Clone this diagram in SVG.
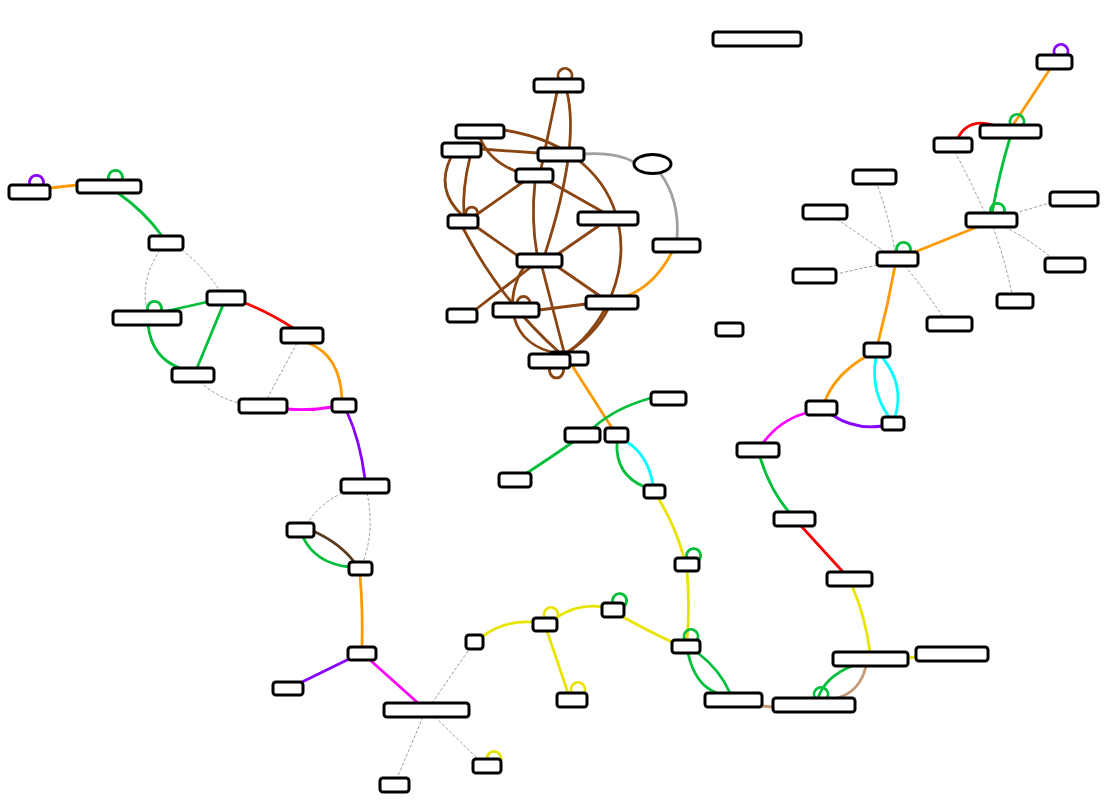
<svg xmlns="http://www.w3.org/2000/svg" width="1111" height="800" viewBox="0 0 1111 800">
<style>
.n{fill:#fff;stroke:#000;stroke-width:3}
.e{fill:none;stroke-width:2.8;stroke-linecap:round}
.d{fill:none;stroke:#9a9a9a;stroke-width:1;stroke-dasharray:3 2}
.br{stroke:#8b4513}.or{stroke:#ff9900}.gr{stroke:#00bf3a}.rd{stroke:#ff0000}
.mg{stroke:#ff00ff}.pu{stroke:#8800ff}.cy{stroke:#00ffff}.ye{stroke:#e8e400}
.gy{stroke:#a0a0a0}.db{stroke:#5b3a1e}.tn{stroke:#c49a78}
</style>
<rect width="1111" height="800" fill="#fff"/>
<g id="connectors">
<!-- brown cluster -->
<path class="e br" d="M559 79 A7 7 0 1 1 571 79"/>
<path class="e br" d="M557 92 L541 169"/>
<path class="e br" d="M535 182 Q531 220 537 254"/>
<path class="e br" d="M567 92 Q580 146 545 254"/>
<path class="e br" d="M503 130 C640 150 652 285 568 353"/>
<path class="e br" d="M480 138 Q490 162 518 172"/>
<path class="e br" d="M481 149 L538 153"/>
<path class="e br" d="M451 157 Q435 190 462 215"/>
<path class="e br" d="M470 157 Q462 190 464 215"/>
<path class="e br" d="M466 215 A6 6 0 1 1 477 216"/>
<path class="e br" d="M476 215 L523 182"/>
<path class="e br" d="M550 182 L603 212"/>
<path class="e br" d="M478 228 L518 256"/>
<path class="e br" d="M600 225 L558 254"/>
<path class="e br" d="M558 267 L600 296"/>
<path class="e br" d="M531 267 L475 310"/>
<path class="e br" d="M463 228 Q500 300 560 353"/>
<path class="e br" d="M539 310 L586 304"/>
<path class="e br" d="M517 303 A6 6 0 1 1 530 303"/>
<path class="e br" d="M524 267 C505 295 505 345 560 354"/>
<path class="e br" d="M542 267 L564 352"/>
<path class="e br" d="M608 309 Q595 335 566 353"/>
<path class="e br" d="M550 367 A7 8 0 1 0 563 367"/>
<path class="e gy" d="M584 154 Q615 152 634 162"/>
<path class="e gy" d="M660 173 Q680 200 677 239"/>
<path class="e or" d="M672 252 Q655 285 627 296"/>
<path class="e or" d="M573 367 L612 428"/>
<!-- lower middle -->
<path class="e gr" d="M651 398 Q615 408 593 428"/>
<path class="e gr" d="M573 442 Q550 458 527 473"/>
<path class="e gr" d="M617 442 Q615 475 645 487"/>
<path class="e cy" d="M627 442 Q648 455 653 485"/>
<path class="e ye" d="M658 498 Q675 525 684 558"/>
<path class="e gr" d="M687 558 A7 7 0 1 1 699 560"/>
<path class="e ye" d="M687 571 Q690 605 687 640"/>
<path class="e gr" d="M685 640 A7 7 0 1 1 697 640"/>
<path class="e gr" d="M613 603 A7 7 0 1 1 625 605"/>
<path class="e ye" d="M623 617 Q650 632 672 642"/>
<path class="e ye" d="M557 617 Q580 603 602 607"/>
<path class="e ye" d="M545 618 A7 7 0 1 1 557 618"/>
<path class="e ye" d="M483 636 Q505 620 533 622"/>
<path class="e ye" d="M547 631 L568 693"/>
<path class="e ye" d="M572 693 A7 7 0 1 1 584 693"/>
<path class="e gr" d="M688 653 Q695 685 717 693"/>
<path class="e gr" d="M698 653 Q720 670 730 693"/>
<path class="e tn" d="M762 706 L773 707"/>
<path class="e ye" d="M908 658 L916 657"/>
<path class="e gr" d="M852 666 Q825 677 818 698"/>
<path class="e gr" d="M815 698 A7 7 0 1 1 827 698"/>
<path class="e tn" d="M866 666 Q860 692 837 698"/>
<path class="e ye" d="M852 586 Q865 615 870 652"/>
<path class="e rd" d="M802 527 L843 572"/>
<path class="e gr" d="M760 457 Q770 490 789 512"/>
<path class="e mg" d="M763 443 Q780 420 806 413"/>
<path class="e pu" d="M832 415 Q855 430 882 426"/>
<path class="e or" d="M865 357 Q835 375 825 401"/>
<path class="e cy" d="M876 357 Q870 390 889 417"/>
<path class="e cy" d="M882 357 Q905 385 895 417"/>
<path class="e or" d="M895 266 Q888 305 878 343"/>
<!-- right top -->
<path class="e pu" d="M1055 55 A7 7 0 1 1 1067 55"/>
<path class="e or" d="M1050 69 L1013 125"/>
<path class="e gr" d="M1011 125 A7 7 0 1 1 1023 125"/>
<path class="e rd" d="M958 138 Q968 118 993 125"/>
<path class="e gr" d="M1010 138 Q1000 170 992 213"/>
<path class="e gr" d="M991 213 A7 7 0 1 1 1004 213"/>
<path class="e or" d="M915 252 L977 227"/>
<path class="e gr" d="M897 252 A7 7 0 1 1 910 252"/>
<path class="d" d="M895 252 Q890 220 877 184"/>
<path class="d" d="M885 252 Q860 235 837 219"/>
<path class="d" d="M877 265 L836 274"/>
<path class="d" d="M905 266 Q925 290 943 317"/>
<path class="d" d="M985 213 Q970 180 955 152"/>
<path class="d" d="M1015 213 L1050 203"/>
<path class="d" d="M1005 227 Q1030 240 1052 258"/>
<path class="d" d="M993 227 Q1005 260 1012 294"/>
<!-- left -->
<path class="e pu" d="M30 185 A7 7 0 1 1 43 185"/>
<path class="e or" d="M50 188 L77 185"/>
<path class="e gr" d="M109 180 A7 7 0 1 1 122 180"/>
<path class="e gr" d="M118 193 Q145 212 162 236"/>
<path class="d" d="M160 250 Q140 280 147 310"/>
<path class="d" d="M182 250 Q205 268 220 291"/>
<path class="e gr" d="M167 311 L207 302"/>
<path class="e gr" d="M148 311 A7 7 0 1 1 161 311"/>
<path class="e gr" d="M148 325 Q152 358 180 368"/>
<path class="e gr" d="M223 305 L197 368"/>
<path class="e rd" d="M245 303 Q270 313 293 328"/>
<path class="d" d="M200 382 Q218 398 239 403"/>
<path class="d" d="M297 343 L267 399"/>
<path class="e or" d="M308 343 Q340 355 342 399"/>
<path class="e mg" d="M287 409 Q310 411 332 407"/>
<path class="e pu" d="M347 412 Q360 440 365 479"/>
<path class="d" d="M342 493 Q318 505 308 523"/>
<path class="d" d="M367 493 Q375 530 363 562"/>
<path class="e db" d="M313 531 Q340 543 355 563"/>
<path class="e gr" d="M303 537 Q315 563 349 567"/>
<path class="e or" d="M360 575 Q363 610 362 647"/>
<path class="e pu" d="M349 659 L302 682"/>
<path class="e mg" d="M370 660 L418 703"/>
<path class="d" d="M432 703 L470 648"/>
<path class="d" d="M423 717 L397 778"/>
<path class="d" d="M435 717 L478 759"/>
<path class="e ye" d="M487 759 A7 7 0 1 1 500 762"/>
</g>
<g id="n-a"><rect class="n" x="534" y="79" width="49" height="13" rx="3"/></g>
<g id="n-b"><rect class="n" x="456" y="125" width="48" height="13" rx="3"/></g>
<g id="n-c"><rect class="n" x="442" y="143" width="39" height="14" rx="3"/></g>
<g id="n-d"><rect class="n" x="538" y="148" width="46" height="13" rx="3"/></g>
<g id="n-e"><rect class="n" x="516" y="169" width="37" height="13" rx="3"/></g>
<g id="n-f"><rect class="n" x="448" y="215" width="30" height="13" rx="3"/></g>
<g id="n-g"><rect class="n" x="578" y="212" width="60" height="13" rx="3"/></g>
<g id="n-h"><rect class="n" x="517" y="254" width="45" height="13" rx="3"/></g>
<g id="n-i"><rect class="n" x="586" y="296" width="52" height="13" rx="3"/></g>
<g id="n-j"><rect class="n" x="493" y="303" width="46" height="14" rx="3"/></g>
<g id="n-k"><rect class="n" x="447" y="309" width="30" height="13" rx="3"/></g>
<g id="n-m"><rect class="n" x="550" y="352" width="38" height="13" rx="3"/></g>
<g id="n-l"><rect class="n" x="529" y="354" width="41" height="14" rx="3"/></g>
<g id="n-ell"><ellipse class="n" cx="652.5" cy="164" rx="18.5" ry="9.5"/></g>
<g id="n-n"><rect class="n" x="653" y="239" width="47" height="13" rx="3"/></g>
<g id="n-top"><rect class="n" x="713" y="32" width="88" height="14" rx="3"/></g>
<g id="n-iso"><rect class="n" x="716" y="323" width="27" height="13" rx="3"/></g>
<g id="n-p1"><rect class="n" x="565" y="428" width="35" height="14" rx="3"/></g>
<g id="n-p2"><rect class="n" x="605" y="428" width="23" height="14" rx="3"/></g>
<g id="n-q"><rect class="n" x="651" y="392" width="35" height="13" rx="3"/></g>
<g id="n-r"><rect class="n" x="499" y="473" width="32" height="14" rx="3"/></g>
<g id="n-s"><rect class="n" x="644" y="485" width="21" height="13" rx="3"/></g>
<g id="n-t"><rect class="n" x="675" y="558" width="24" height="13" rx="3"/></g>
<g id="n-u"><rect class="n" x="672" y="640" width="28" height="13" rx="3"/></g>
<g id="n-v"><rect class="n" x="602" y="603" width="22" height="14" rx="3"/></g>
<g id="n-w"><rect class="n" x="533" y="618" width="24" height="13" rx="3"/></g>
<g id="n-x"><rect class="n" x="466" y="635" width="17" height="14" rx="3"/></g>
<g id="n-y"><rect class="n" x="557" y="693" width="30" height="14" rx="3"/></g>
<g id="n-z"><rect class="n" x="705" y="693" width="57" height="14" rx="3"/></g>
<g id="n-aa"><rect class="n" x="773" y="698" width="82" height="14" rx="3"/></g>
<g id="n-ab"><rect class="n" x="833" y="652" width="75" height="14" rx="3"/></g>
<g id="n-ac"><rect class="n" x="916" y="647" width="72" height="14" rx="3"/></g>
<g id="n-ad"><rect class="n" x="827" y="572" width="45" height="14" rx="3"/></g>
<g id="n-ae"><rect class="n" x="774" y="512" width="41" height="14" rx="3"/></g>
<g id="n-af"><rect class="n" x="737" y="443" width="42" height="14" rx="3"/></g>
<g id="n-ag"><rect class="n" x="806" y="401" width="31" height="14" rx="3"/></g>
<g id="n-ah"><rect class="n" x="882" y="417" width="22" height="13" rx="3"/></g>
<g id="n-ai"><rect class="n" x="864" y="343" width="26" height="14" rx="3"/></g>
<g id="n-ak"><rect class="n" x="927" y="317" width="45" height="14" rx="3"/></g>
<g id="n-al"><rect class="n" x="1037" y="55" width="35" height="14" rx="3"/></g>
<g id="n-am"><rect class="n" x="980" y="125" width="61" height="13" rx="3"/></g>
<g id="n-an"><rect class="n" x="934" y="138" width="38" height="14" rx="3"/></g>
<g id="n-aj"><rect class="n" x="966" y="213" width="51" height="14" rx="3"/></g>
<g id="n-ao"><rect class="n" x="853" y="170" width="43" height="14" rx="3"/></g>
<g id="n-ap"><rect class="n" x="803" y="205" width="44" height="14" rx="3"/></g>
<g id="n-aq"><rect class="n" x="877" y="252" width="41" height="14" rx="3"/></g>
<g id="n-ar"><rect class="n" x="793" y="269" width="43" height="14" rx="3"/></g>
<g id="n-at"><rect class="n" x="997" y="294" width="36" height="14" rx="3"/></g>
<g id="n-au"><rect class="n" x="1045" y="258" width="40" height="14" rx="3"/></g>
<g id="n-av"><rect class="n" x="1050" y="192" width="48" height="14" rx="3"/></g>
<g id="n-ba"><rect class="n" x="9" y="185" width="41" height="14" rx="3"/></g>
<g id="n-bb"><rect class="n" x="77" y="180" width="64" height="13" rx="3"/></g>
<g id="n-bc"><rect class="n" x="149" y="236" width="34" height="14" rx="3"/></g>
<g id="n-bd"><rect class="n" x="207" y="291" width="38" height="14" rx="3"/></g>
<g id="n-be"><rect class="n" x="113" y="311" width="68" height="14" rx="3"/></g>
<g id="n-bf"><rect class="n" x="172" y="368" width="42" height="14" rx="3"/></g>
<g id="n-bg"><rect class="n" x="281" y="328" width="42" height="15" rx="3"/></g>
<g id="n-bh"><rect class="n" x="239" y="399" width="48" height="14" rx="3"/></g>
<g id="n-bi"><rect class="n" x="332" y="399" width="24" height="13" rx="3"/></g>
<g id="n-bj"><rect class="n" x="341" y="479" width="48" height="14" rx="3"/></g>
<g id="n-bk"><rect class="n" x="287" y="523" width="27" height="14" rx="3"/></g>
<g id="n-bl"><rect class="n" x="349" y="562" width="23" height="13" rx="3"/></g>
<g id="n-bm"><rect class="n" x="348" y="647" width="28" height="13" rx="3"/></g>
<g id="n-bn"><rect class="n" x="273" y="682" width="30" height="13" rx="3"/></g>
<g id="n-bo"><rect class="n" x="384" y="703" width="85" height="14" rx="3"/></g>
<g id="n-bp"><rect class="n" x="380" y="778" width="29" height="14" rx="3"/></g>
<g id="n-bq"><rect class="n" x="473" y="759" width="28" height="14" rx="3"/></g>
</svg>
